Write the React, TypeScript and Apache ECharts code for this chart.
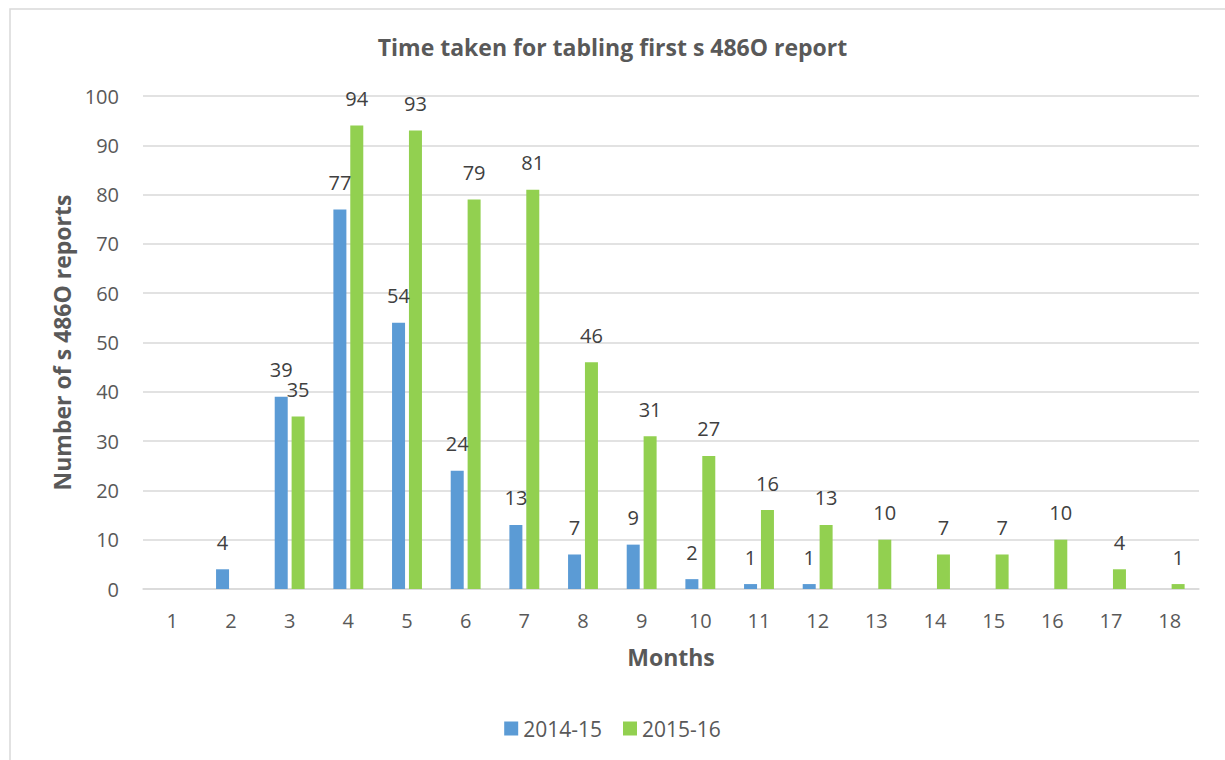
import React, { useEffect, useRef } from "react";
import * as echarts from "echarts";

const months = ["1","2","3","4","5","6","7","8","9","10","11","12","13","14","15","16","17","18"];
const series2014 = [null, 4, 39, 77, 54, 24, 13, 7, 9, 2, 1, 1, null, null, null, null, null, null];
const series2015 = [null, null, 35, 94, 93, 79, 81, 46, 31, 27, 16, 13, 10, 7, 7, 10, 4, 1];
const seriesNames = ["2014-15", "2015-16"];
const yTicks = { min: 0, max: 100, interval: 10 };

const FONT = "'Open Sans', 'Noto Sans', sans-serif";

export default function App() {
  const ref = useRef<HTMLDivElement>(null);
  useEffect(() => {
    if (!ref.current) return;
    const chart = echarts.init(ref.current, null, { renderer: "svg" });
    const label = {
      show: true,
      position: "top",
      distance: 17,
      color: "#404040",
      fontSize: 20,
      fontFamily: FONT,
    };
    chart.setOption({
      animation: false,
      backgroundColor: "#ffffff",
      textStyle: { fontFamily: FONT },
      title: {
        text: "Time taken for tabling first s 486O report",
        left: "center",
        top: 30,
        textStyle: { fontSize: 23, fontWeight: "bold", color: "#595959", fontFamily: FONT },
      },
      graphic: [
        {
          type: "rect",
          shape: { x: 10, y: 9, width: 1300, height: 800 },
          style: { fill: "none", stroke: "#d9d9d9", lineWidth: 1.5 },
          silent: true,
        },
      ],
      legend: {
        data: seriesNames,
        bottom: 16,
        left: "center",
        itemWidth: 14,
        itemHeight: 14,
        itemGap: 21,
        icon: "rect",
        textStyle: { fontSize: 21, color: "#595959", fontFamily: FONT },
      },
      grid: { left: 143, right: 26, top: 96, bottom: 171 },
      xAxis: {
        type: "category",
        data: months,
        name: "Months",
        nameLocation: "middle",
        nameGap: 56,
        nameTextStyle: { fontSize: 23, fontWeight: "bold", color: "#595959", fontFamily: FONT },
        axisLine: { show: true, lineStyle: { color: "#d9d9d9", width: 1.5 } },
        axisTick: { show: false },
        axisLabel: { fontSize: 20, color: "#595959", margin: 21, fontFamily: FONT },
      },
      yAxis: {
        type: "value",
        min: yTicks.min,
        max: yTicks.max,
        interval: yTicks.interval,
        name: "Number of s 486O reports",
        nameLocation: "middle",
        nameGap: 67,
        nameTextStyle: { fontSize: 23, fontWeight: "bold", color: "#595959", fontFamily: FONT },
        axisLine: { show: false },
        axisTick: { show: false },
        axisLabel: { fontSize: 20, color: "#595959", margin: 24, fontFamily: FONT },
        splitLine: { lineStyle: { color: "#d9d9d9", width: 1.5 } },
      },
      series: [
        {
          name: seriesNames[0],
          type: "bar",
          data: series2014,
          barWidth: 13,
          barGap: "30%",
          itemStyle: { color: "#5B9BD5" },
          label,
        },
        {
          name: seriesNames[1],
          type: "bar",
          data: series2015,
          barWidth: 13,
          barGap: "30%",
          itemStyle: { color: "#92D050" },
          label,
        },
      ],
    });
    return () => chart.dispose();
  }, []);
  return (
    <div
      ref={ref}
      style={{ position: "absolute", left: 0, top: 0, width: 1225, height: 760 }}
    />
  );
}
